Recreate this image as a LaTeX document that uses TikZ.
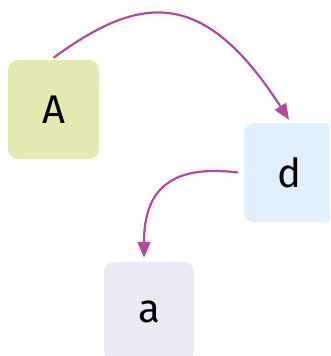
\documentclass[tikz,border=0pt]{standalone}
\usepackage{fontspec}
\setmainfont{Fira Sans}
\usetikzlibrary{arrows.meta}
\definecolor{fillA}{HTML}{E4EAB0}
\definecolor{fillD}{HTML}{E0F1FD}
\definecolor{fillLa}{HTML}{ECE9F7}
\definecolor{edgecol}{HTML}{B5489A}
\tikzset{
  box/.style={rectangle, rounded corners=10pt, draw=none, inner sep=0pt,
    minimum width=90pt, minimum height=99pt, font=\fontsize{40}{42}\selectfont},
  link/.style={draw=edgecol, line width=2.2pt,
    -{Triangle[length=16pt,width=13pt]}}
}
\begin{document}
\begin{tikzpicture}[x=1pt,y=-1pt]
\useasboundingbox (0,0) rectangle (330,356);
\clip (0,0) rectangle (330,356);
\node[box, fill=fillA, minimum width=91pt] (A) at (53.5,109.5) {A};
\node[box, fill=fillD] (d) at (289,172.5) {d};
\node[box, fill=fillLa] (a) at (149,311.5) {a};
\draw[link] ([yshift=2pt]A.north) .. controls +(86,-63) and +(-86,-134) .. ([yshift=3pt]d.north);
\draw[link] ([xshift=-6pt]d.west) .. controls +(-65,-8) and +(0,-70) .. ([xshift=-5pt,yshift=4pt]a.north);
\end{tikzpicture}
\end{document}
